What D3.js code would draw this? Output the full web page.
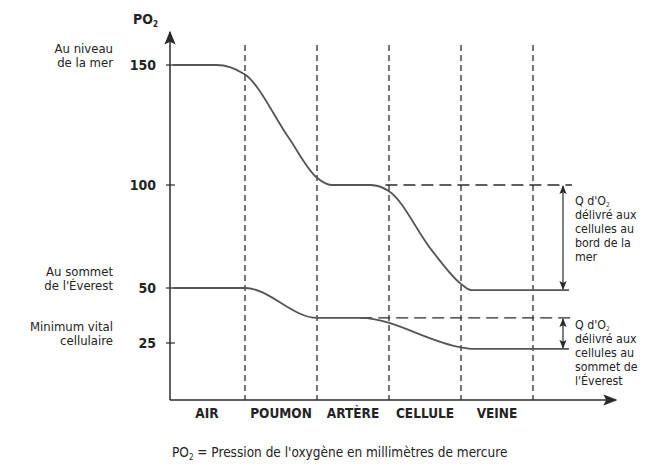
<!DOCTYPE html>
<html><head><meta charset="utf-8">
<script src="https://cdn.jsdelivr.net/npm/d3@7"></script>
<style>
body{margin:0;background:#fff;}
text{font-family:"DejaVu Sans Condensed","Liberation Sans Narrow",sans-serif;fill:#242424;}
</style></head>
<body><svg id="c" width="653" height="464"></svg>
<script>
// ---- data ----
const categories = ["AIR","POUMON","ARTÈRE","CELLULE","VEINE"];
const yTicks = [150,100,50,25];
const yTickNotes = [["Au niveau","de la mer"],null,["Au sommet","de l'Éverest"],["Minimum vital","cellulaire"]];
// sea level curve (stage position, PO2)
const seaStage = [0,0.6,1,1.6,2,2.2,2.75,3,3.6,4,4.15,5.5];
const seaPO2   = [150,150,146,120,103,100,100,97,68,52,49,49];
// Everest curve
const evStage = [0,1,2,2.6,4,4.15,5.5];
const evPO2   = [50,50,36.4,36.4,23,22.3,22.3];
// references for delivered O2
const seaRef = {start:2.95, top:100, bottom:49};
const evRef  = {start:2.6, top:36.4, bottom:22.3};
const seaNote = ["Q d'O|2","délivré aux","cellules au","bord de la","mer"];
const evNote  = ["Q d'O|2","délivré aux","cellules au","sommet de","l'Éverest"];

const svg = d3.select("#c");
const x = d3.scaleLinear().domain([0,5]).range([173,533]);
const y = d3.scaleLinear().domain([25,50,100,150]).range([343,288,185,65]);
const X0 = 170, Y0 = 400, ink = "#2b2b2b";

// arrow markers
const defs = svg.append("defs");
defs.append("marker").attr("id","ah").attr("viewBox","0 0 10 10").attr("refX",9).attr("refY",5)
  .attr("markerWidth",14).attr("markerHeight",14).attr("markerUnits","userSpaceOnUse").attr("orient","auto")
  .append("path").attr("d","M0,1 L10,5 L0,9 L2,5 Z").attr("fill",ink);
defs.append("marker").attr("id","sa").attr("viewBox","0 0 10 10").attr("refX",9).attr("refY",5)
  .attr("markerWidth",9).attr("markerHeight",9).attr("markerUnits","userSpaceOnUse").attr("orient","auto-start-reverse")
  .append("path").attr("d","M0,1 L10,5 L0,9 L2,5 Z").attr("fill",ink);

// dashed vertical separators
[1,2,3,4,5].forEach(s=>{
  svg.append("line").attr("x1",x(s)).attr("x2",x(s)).attr("y1",45).attr("y2",Y0)
    .attr("stroke",ink).attr("stroke-width",1.3).attr("stroke-dasharray","6,4");
});

// axes
svg.append("line").attr("x1",X0).attr("y1",Y0).attr("x2",X0).attr("y2",32)
  .attr("stroke",ink).attr("stroke-width",1.5).attr("marker-end","url(#ah)");
svg.append("line").attr("x1",X0).attr("y1",Y0).attr("x2",616).attr("y2",Y0)
  .attr("stroke",ink).attr("stroke-width",1.5).attr("marker-end","url(#ah)");

// y ticks
yTicks.forEach((t,i)=>{
  svg.append("line").attr("x1",X0-4).attr("x2",X0+5).attr("y1",y(t)).attr("y2",y(t)).attr("stroke",ink).attr("stroke-width",1.2);
  svg.append("text").attr("x",156).attr("y",y(t)+5).attr("text-anchor","end")
    .attr("font-size",14).attr("font-weight","bold").text(t);
  const n = yTickNotes[i];
  if(n){
    n.forEach((l,j)=>svg.append("text").attr("x",113).attr("y",y(t)-12+j*14)
      .attr("text-anchor","end").attr("font-size",13).text(l));
  }
});
// y axis title
const pt = svg.append("text").attr("x",133).attr("y",24).attr("font-size",14).attr("font-weight","bold");
pt.append("tspan").text("PO");
pt.append("tspan").attr("font-size",8).attr("dy",3).text("2");

// x categories
categories.forEach((c,i)=>{
  svg.append("text").attr("x",(x(i)+x(i+1))/2 - (i===0?2:0)).attr("y",418).attr("text-anchor","middle")
    .attr("font-size",13.5).attr("font-weight","bold").text(c);
});

// reference dashed horizontals
[seaRef,evRef].forEach(r=>{
  svg.append("line").attr("x1",x(r.start)).attr("x2",572).attr("y1",y(r.top)).attr("y2",y(r.top))
    .attr("stroke",ink).attr("stroke-width",1.3).attr("stroke-dasharray","12,6");
  svg.append("line").attr("x1",563).attr("x2",563).attr("y1",y(r.top)+1).attr("y2",y(r.bottom)-1)
    .attr("stroke",ink).attr("stroke-width",1.2).attr("marker-start","url(#sa)").attr("marker-end","url(#sa)");
});

// curves
const line = d3.line().x(d=>x(d[0])).y(d=>y(d[1])).curve(d3.curveMonotoneX);
svg.append("path").attr("d",line(d3.zip(seaStage,seaPO2))).attr("fill","none").attr("stroke","#555").attr("stroke-width",1.8);
svg.append("path").attr("d",line(d3.zip(evStage,evPO2))).attr("fill","none").attr("stroke","#555").attr("stroke-width",1.8);

// notes
function note(lines, y0, dy){
  lines.forEach((l,j)=>{
    const t = svg.append("text").attr("x",575).attr("y",y0+j*dy).attr("font-size",12.3);
    const p = l.split("|");
    t.append("tspan").text(p[0]);
    if(p[1]) t.append("tspan").attr("font-size",6.5).attr("dy",1.5).text(p[1]);
  });
}
note(seaNote, 205, 14);
note(evNote, 329, 14);

// caption
const cap = svg.append("text").attr("x",172).attr("y",457).attr("font-size",13.5);
cap.append("tspan").text("PO");
cap.append("tspan").attr("font-size",8).attr("dy",3).text("2");
cap.append("tspan").attr("dy",-3).text(" = Pression de l'oxygène en millimètres de mercure");
</script></body></html>
